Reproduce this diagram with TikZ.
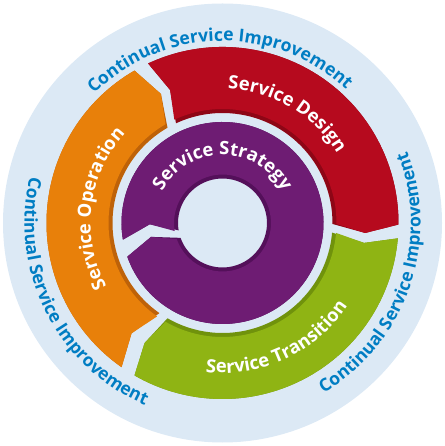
\documentclass[tikz,border=0pt]{standalone}
\usepackage{fontspec}
\setmainfont{Open Sans}
\usetikzlibrary{decorations.text}
\definecolor{ringbg}{RGB}{220,233,245}
\definecolor{csiblue}{RGB}{0,125,195}
\definecolor{opfill}{RGB}{232,128,10}
\definecolor{opshade}{RGB}{190,98,8}
\definecolor{dsfill}{RGB}{182,10,30}
\definecolor{dsshade}{RGB}{142,6,22}
\definecolor{trfill}{RGB}{143,180,20}
\definecolor{trshade}{RGB}{112,146,12}
\definecolor{stfill}{RGB}{110,28,115}
\definecolor{stshade}{RGB}{84,16,90}
\newcommand\csifont{\bfseries\fontsize{17.6}{17.6}\selectfont}
\newcommand\phasefont{\bfseries\fontsize{18.4}{18.4}\selectfont}
% #1 fill, #2 shade, #3 tail angle, #4 head angle, #5 inner r, #6 outer r, #7 chevron
\newcommand\cyclearrow[7]{%
  \fill[#2] (#3:#6) arc[start angle=#3,end angle=#4,radius=#6]
    -- ({#4-#7}:{(#5+#6)/2}) -- (#4:#5) arc[start angle=#4,end angle=#3,radius=#5]
    -- ({#3-#7}:{(#5+#6)/2}) -- cycle;
  \fill[#1] (#3:#6) arc[start angle=#3,end angle=#4,radius=#6]
    -- ({#4-#7}:{(#5+#6)/2}) -- (#4:#5+4) arc[start angle=#4,end angle=#3,radius=#5+4]
    -- ({#3-#7}:{(#5+#6)/2}) -- cycle;}
% #1 from, #2 to, #3 baseline r, #4 colour, #5 font, #6 text
\newcommand\ringtext[6]{%
  \path[decorate,decoration={text along path,text align=center,text color=#4,
    text={|#5|#6}}] (#1:#3) arc[start angle=#1,end angle=#2,radius=#3];}

\begin{document}
\begin{tikzpicture}[x=1pt,y=1pt]
\useasboundingbox (-222.5,-223) rectangle (221.5,223);
\fill[ringbg] (0,0) circle[radius=219.5];
\cyclearrow{opfill}{opshade}{235}{120}{110}{176}{4.5}
\cyclearrow{dsfill}{dsshade}{115}{-0.5}{110}{176}{3.5}
\cyclearrow{trfill}{trshade}{-5}{-120}{110}{176}{3}
\cyclearrow{stfill}{stshade}{189.5}{-160.5}{44.5}{101}{8.5}
\ringtext{181}{1}{182}{csiblue}{\csifont}{Continual Service Improvement}
\ringtext{-109}{71}{198}{csiblue}{\csifont}{Continual Service Improvement}
\ringtext{116.7}{296.7}{198}{csiblue}{\csifont}{Continual Service Improvement}
\ringtext{149.4}{-30.6}{134}{white}{\phasefont}{Service Design}
\ringtext{205}{385}{150}{white}{\phasefont}{Service Transition}
\ringtext{263}{83}{132}{white}{\phasefont}{Service Operation}
\ringtext{180}{0}{68}{white}{\phasefont}{Service Strategy}
\end{tikzpicture}
\end{document}
